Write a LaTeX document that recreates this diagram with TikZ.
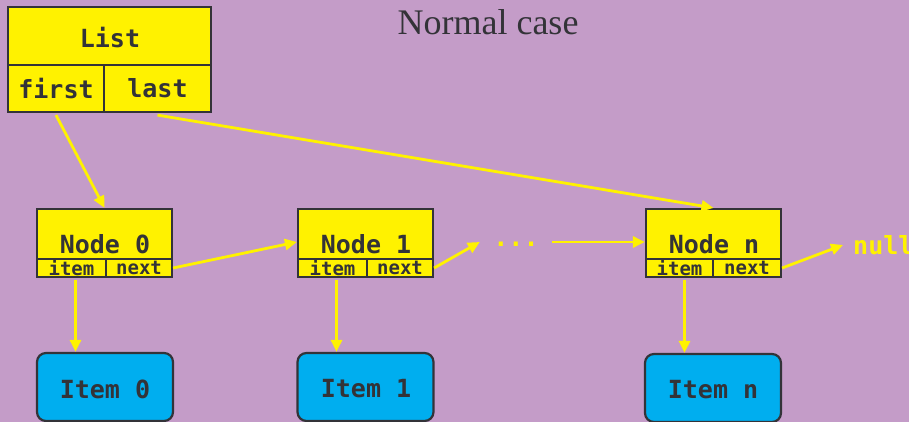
\documentclass[tikz,border=0pt]{standalone}
\usepackage{fontspec}
\setmonofont{DejaVu Sans Mono}
\newfontfamily\titlefont{Liberation Serif}
\usetikzlibrary{arrows.meta}
\definecolor{bgp}{HTML}{C49CC8}
\definecolor{ylw}{HTML}{FFF200}
\definecolor{blu}{HTML}{00AEEF}
\definecolor{drk}{HTML}{333338}
\tikzset{
  cell/.style={draw=drk, line width=2.2pt, fill=ylw, inner sep=0pt, anchor=center},
  bigtxt/.style={font=\ttfamily\bfseries\fontsize{25}{28}\selectfont, text=drk, inner sep=0pt},
  smltxt/.style={font=\ttfamily\bfseries\fontsize{19}{21}\selectfont, text=drk},
  itembox/.style={draw=drk, line width=2.2pt, fill=blu, rounded corners=9pt, minimum width=136pt, minimum height=68pt, inner sep=0pt},
  arr/.style={draw=ylw, line width=2.8pt, -{Triangle[length=12pt,width=11pt]}},
  ytxt/.style={font=\ttfamily\bfseries\fontsize{25}{28}\selectfont, text=ylw, inner sep=0pt}
}
\begin{document}
\begin{tikzpicture}[x=1pt,y=-1pt]
\fill[bgp] (0,0) rectangle (909,422);
\useasboundingbox (0,0) rectangle (909,422);

\node[font=\titlefont\fontsize{36}{40}\selectfont, text=drk] (title) at (488,22) {Normal case};

% List box
\node[cell, minimum width=203pt, minimum height=58pt] (listtop) at (109.5,36) {};
\node[bigtxt] (listtxt) at (110,38) {List};
\node[cell, minimum width=96pt, minimum height=47pt, bigtxt] (first) at (56,88.5) {first};
\node[cell, minimum width=107pt, minimum height=47pt, bigtxt] (last) at (157.5,88.5) {last};

% Node 0
\node[cell, minimum width=135pt, minimum height=50pt] (n0) at (104.5,234) {};
\node[bigtxt] (n0t) at (105,244) {Node 0};
\node[cell, minimum width=69pt, minimum height=18pt, smltxt] (it0) at (71.5,268) {item};
\node[cell, minimum width=66pt, minimum height=18pt, smltxt] (nx0) at (139,268) {next};

% Node 1
\node[cell, minimum width=135pt, minimum height=50pt] (n1) at (365.5,234) {};
\node[bigtxt] (n1t) at (366,244) {Node 1};
\node[cell, minimum width=69pt, minimum height=18pt, smltxt] (it1) at (332.5,268) {item};
\node[cell, minimum width=66pt, minimum height=18pt, smltxt] (nx1) at (400,268) {next};

% Node n
\node[cell, minimum width=135pt, minimum height=50pt] (nn) at (713.5,234) {};
\node[bigtxt] (nnt) at (714,244) {Node n};
\node[cell, minimum width=67pt, minimum height=18pt, smltxt] (itn) at (679.5,268) {item};
\node[cell, minimum width=68pt, minimum height=18pt, smltxt] (nxn) at (747,268) {next};

% dots and null
\node[ytxt, minimum width=72pt] (dots) at (516,244) {...};
\node[ytxt, anchor=west] (null) at (853,245) {null};

% Items
\node[itembox, bigtxt] (I0) at (105,387) {};
\node[bigtxt] (I0t) at (105,389) {Item 0};
\node[itembox, bigtxt] (I1) at (365.5,387) {};
\node[bigtxt] (I1t) at (366,389) {Item 1};
\node[itembox, bigtxt] (In) at (713,388) {};
\node[bigtxt] (Int) at (713,390) {Item n};

% arrows
\draw[arr] ([yshift=-2pt]first.south) -- (n0.north);
\draw[arr] ([yshift=-2pt]last.south) -- (nn.north);
\draw[arr] (nx0.east) -- ([yshift=-8pt]n1.west);
\draw[arr] (nx1.east) -- ([yshift=2pt]dots.west);
\draw[arr] ([yshift=2pt]dots.east) -- ([yshift=-8pt]nn.west);
\draw[arr] (nxn.east) -- ([xshift=-10pt]null.west);
\draw[arr] ([xshift=4pt,yshift=-2pt]it0.south) -- ([xshift=4pt]it0.south |- I0.north);
\draw[arr] ([xshift=4pt,yshift=-2pt]it1.south) -- ([xshift=4pt]it1.south |- I1.north);
\draw[arr] ([xshift=5pt,yshift=-2pt]itn.south) -- ([xshift=5pt]itn.south |- In.north);
\end{tikzpicture}
\end{document}
